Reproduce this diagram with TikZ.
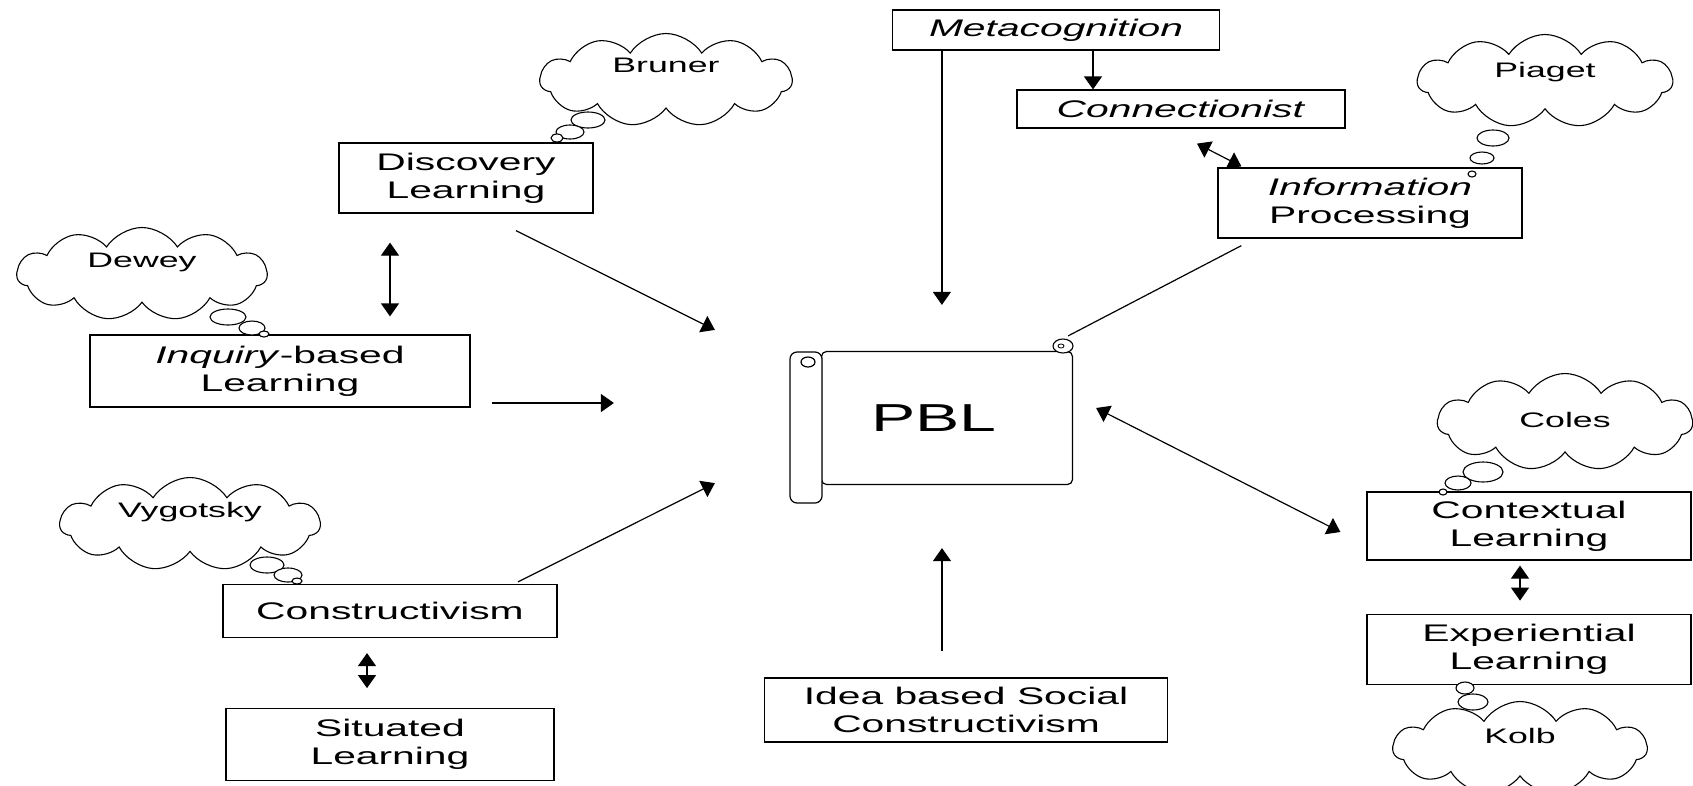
\documentclass[tikz,border=0pt]{standalone}
\usepackage{fontspec}
\setmainfont[FakeStretch=1.7]{Liberation Sans}
\usepackage{tikz}
\usetikzlibrary{shapes,arrows.meta,positioning,calc}

\newcommand\boxfont{\fontsize{24}{28}\selectfont}
\newcommand\cloudfont{\fontsize{21}{24}\selectfont}

\tikzset{
  concept/.style={draw, rectangle, line width=1.2pt, align=center, inner sep=0pt, font=\boxfont},
  thought/.style={draw, cloud, cloud puffs=11, cloud puff arc=115, cloud ignores aspect,
    minimum width=252pt, minimum height=93pt, inner sep=0pt, line width=1.1pt, font=\cloudfont},
  bubble/.style={draw, line width=1.1pt, fill=white},
  link/.style={line width=1.2pt}
}

\begin{document}
\begin{tikzpicture}[x=1pt, y=-1pt, >={Triangle[length=13pt,width=18pt]}]
        \useasboundingbox (0,0) rectangle (1693,785);

        % centre: the scroll
        \node (pbl) [draw, rectangle, rounded corners=5pt, line width=1.2pt, minimum width=251pt, minimum height=133pt, font=\fontsize{39}{44}\selectfont] at (947,418) {\hspace*{-26pt}PBL};
        \draw[link, fill=white, rounded corners=7pt] (790,352) rectangle (822,503);
        \draw[link] (808,362) ellipse (7pt and 5pt);
        \draw[bubble] (1063,346) ellipse (10pt and 7pt);
        \draw[line width=0.8pt] (1061,346) ellipse (3pt and 2pt);

        % left column
        \node (disc) [concept, minimum width=254pt, minimum height=70pt] at (466,178) {Discovery\\Learning};
        \node (inq) [concept, minimum width=380pt, minimum height=72pt] at (280,371) {\textit{Inquiry}-based\\Learning};
        \node (cons) [concept, minimum width=334pt, minimum height=53pt] at (390,611) {Constructivism};
        \node (sit) [concept, minimum width=328pt, minimum height=72pt, below=70pt of cons] {Situated\\Learning};

        % top and right
        \node (meta) [concept, minimum width=327pt, minimum height=40pt] at (1056,30) {\textit{Metacognition}};
        \node (conn) [concept, minimum width=328pt, minimum height=38pt] at (1181,109) {\textit{Connectionist}};
        \node (info) [concept, minimum width=304pt, minimum height=70pt] at (1370,203) {\textit{Information}\\Processing};
        \node (ctx) [concept, minimum width=324pt, minimum height=68pt] at (1529,526) {Contextual\\Learning};
        \node (exp) [concept, minimum width=324pt, minimum height=70pt, below=53pt of ctx] {Experiential\\Learning};
        \node (idea) [concept, minimum width=403pt, minimum height=64pt] at (966,710) {Idea based Social\\Constructivism};

        % thinkers
        \node (bruner) [thought, text depth=30pt] at (666,80) {Bruner};
        \node (dewey) [thought, text depth=28pt, minimum width=250pt] at (142,274) {Dewey};
        \node (vygotsky) [thought, text depth=28pt, minimum width=260pt] at (190,524) {Vygotsky};
        \node (piaget) [thought, text depth=22pt, minimum width=255pt] at (1545,81) {Piaget};
        \node (coles) [thought, text depth=4pt, minimum width=255pt, minimum height=97pt] at (1565,422) {Coles};
        \node (kolb) [thought, text depth=24pt, minimum width=254pt] at (1520,748) {Kolb};

        \draw[bubble] (588,120) ellipse (17pt and 8pt);
        \draw[bubble] (570,132) ellipse (14pt and 7pt);
        \draw[bubble] (557,138) ellipse (6pt and 4pt);
        \draw[bubble] (228,317) ellipse (18pt and 8pt);
        \draw[bubble] (252,328) ellipse (13pt and 7pt);
        \draw[bubble] (264,334) ellipse (5pt and 3pt);
        \draw[bubble] (267,565) ellipse (17pt and 8pt);
        \draw[bubble] (288,575) ellipse (14pt and 7pt);
        \draw[bubble] (297,581) ellipse (5pt and 3pt);
        \draw[bubble] (1493,138) ellipse (16pt and 8pt);
        \draw[bubble] (1482,158) ellipse (12pt and 6pt);
        \draw[bubble] (1472,174) ellipse (4pt and 3pt);
        \draw[bubble] (1483,472) ellipse (20pt and 10pt);
        \draw[bubble] (1458,483) ellipse (13pt and 7pt);
        \draw[bubble] (1443,492) ellipse (4pt and 3pt);
        \draw[bubble] (1473,702) ellipse (15pt and 8pt);
        \draw[bubble] (1465,688) ellipse (9pt and 6pt);

        % connectors
        \draw[link, <->, shorten <=29pt, shorten >=18pt] ([xshift=-76pt]disc.south) -- ([xshift=-76pt]disc.south |- inq.north);
        \draw[link, ->] ([xshift=50pt,yshift=-17pt]disc.south) -- ([xshift=-106pt,yshift=21pt]pbl.north west);
        \draw[link, ->, shorten <=21pt, shorten >=207pt] ([yshift=-32pt]inq.east) -- ([yshift=15pt]pbl.west);
        \draw[link, ->] ([xshift=128pt,yshift=2pt]cons.north) -- ([xshift=-106pt,yshift=2pt]pbl.south west);
        \draw[link, <->, shorten <=15pt, shorten >=20pt] ([xshift=-23pt]cons.south) -- ([xshift=-23pt]cons.south |- sit.north);

        \draw[link, ->, shorten >=46pt] ([xshift=50pt]meta.south west) -- ([xshift=50pt]meta.south west |- pbl.north);
        \draw[link, ->] ([xshift=37pt]meta.south) -- ([xshift=37pt]meta.south |- conn.north);
        \draw[link, <->] ([xshift=16pt,yshift=-15pt]conn.south) -- ([xshift=24pt,yshift=1pt]info.north west);
        \draw[link] ([xshift=24pt,yshift=-7pt]info.south west) -- ([xshift=-5pt,yshift=15pt]pbl.north east);
        \draw[link, <->] ([xshift=23pt,yshift=10pt]pbl.east) -- ([xshift=-26pt,yshift=-6pt]ctx.west);
        \draw[link, <->, shorten <=5pt, shorten >=13pt] ([xshift=-9pt]ctx.south) -- ([xshift=-9pt]ctx.south |- exp.north);
        \draw[link, ->, shorten <=26pt, shorten >=63pt] ([xshift=-24pt]idea.north) -- ([xshift=-24pt]idea.north |- pbl.south);
    \end{tikzpicture}
\end{document}
